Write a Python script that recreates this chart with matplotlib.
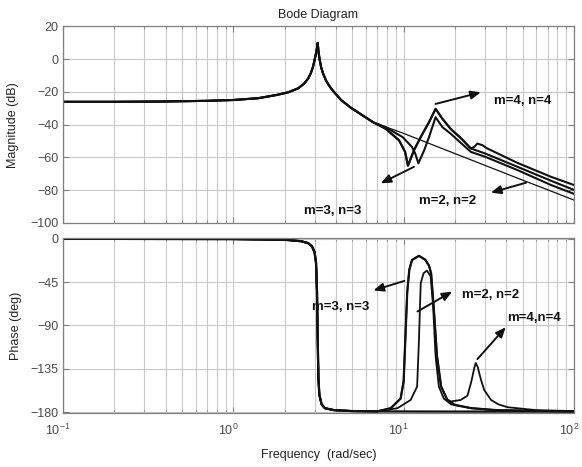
import matplotlib
matplotlib.use("Agg")
import matplotlib.pyplot as plt
import matplotlib.transforms as mtransforms
from matplotlib.ticker import LogLocator, NullFormatter, FixedLocator

plt.rcParams['font.family'] = ['Liberation Sans', 'DejaVu Sans']

# ---------------- magnitude (dB) ----------------
# part shared by every curve (up to where they split, ~6.6 rad/s)
mag_f_common = [0.1, 0.2, 0.4, 0.7, 1.0, 1.4, 1.8, 2.1, 2.4, 2.6, 2.75, 2.85,
                2.93, 2.99, 3.05, 3.1, 3.13, 3.16, 3.21, 3.28, 3.36, 3.5, 3.7,
                3.9, 4.3, 4.9, 5.8, 6.6]
mag_common = [-26, -26, -25.8, -25.4, -24.9, -23.8, -21.8, -20.2, -17.8, -15,
              -11.8, -8.6, -5, -1.2, 3, 7, 10, 5, 0, -5, -8.5, -13, -17, -20,
              -25, -29.6, -34.6, -38.4]

# thin reference curve (no extra modes)
mag_f_base = [7.8, 10, 18.9, 30, 46.6, 70, 100]
mag_base = [-41.2, -45.3, -56.6, -64.8, -72.6, -79.7, -86]

# m=3, n=3
mag_f_m3 = [7.83, 9.4, 10.2, 10.6, 11.5, 12.6, 14.1, 15.4, 16.9, 18.9, 21.6,
            24.8, 30, 46.6, 73.3, 100]
mag_m3 = [-42.4, -49.5, -56.6, -65, -55.6, -47.5, -38.4, -30.3, -36.4, -42.6,
          -48, -54.5, -57.5, -65.7, -74.2, -79.8]

# m=2, n=2
mag_f_m2 = [7.83, 9.85, 11.2, 11.7, 12.2, 13.2, 14.1, 15.4, 16.9, 18.9, 24.8,
            30, 46.6, 73.3, 100]
mag_m2 = [-41.5, -47.5, -53.6, -57.6, -63.6, -55.6, -47.5, -35.4, -41.5,
          -45.5, -56.6, -59.5, -67.7, -76.8, -82.2]

# m=4, n=4 (follows m=3 up to ~24 rad/s, then the small bump)
mag_f_m4 = [24.8, 26.0, 27.1, 29.0, 31.0, 46.6, 73.3, 100]
mag_m4 = [-54.5, -53.5, -51.5, -52.5, -54.5, -63.3, -71.8, -76.8]

# ---------------- phase (deg) ----------------
ph_f_common = [0.1, 1.0, 2.0, 2.5, 2.75, 2.9, 3.0, 3.06, 3.1, 3.13, 3.16,
               3.2, 3.3, 3.45, 3.9, 5.0, 7.0]
ph_common = [0, -0.3, -1, -2.5, -4.5, -8, -14, -25, -55, -105, -145, -162,
             -172, -176, -178, -179, -179.3]

ph_f_base = [20, 100]
ph_base = [-179.5, -179.5]

ph_f_m3 = [8.4, 9.6, 10.0, 10.2, 10.5, 10.8, 11.2, 12.3, 13.4, 14.1, 14.5,
           15.0, 15.7, 16.6, 18.0, 20, 25, 35, 100]
ph_m3 = [-176, -166, -148, -110, -55, -32, -22, -17.7, -21.8, -28, -36, -70,
         -122, -153.5, -167, -172.6, -176, -178, -179.5]

ph_f_m2 = [9.2, 11.0, 12.0, 12.3, 12.6, 13.1, 13.7, 14.4, 14.9, 15.4, 16.1,
           17.2, 19, 25, 35, 100]
ph_m2 = [-176, -167.4, -153.5, -105, -46, -35.7, -33, -39, -70.4, -122,
         -153.5, -166, -172, -176, -178, -179.5]

ph_f_m4 = [18.9, 21.6, 23.7, 25.0, 26.0, 26.5, 27.2, 28.4, 29.7, 32.6, 36,
           40.8, 60, 100]
ph_m4 = [-169, -167.5, -163, -148, -134, -129, -133, -146, -157, -167.4, -172,
         -175, -178, -179]


def head(fx, vals, fmax):
    return ([f for f in fx if f <= fmax], [v for f, v in zip(fx, vals) if f <= fmax])


fig = plt.figure(figsize=(5.82, 4.67), dpi=100)
ax1 = fig.add_axes([0.1082, 0.5225, 0.878, 0.4208])
ax2 = fig.add_axes([0.1082, 0.1156, 0.878, 0.3747])

lc = '#111111'
# magnitude
ax1.plot(mag_f_common + mag_f_base, mag_common + mag_base, color=lc, lw=0.9)
ax1.plot(mag_f_common + mag_f_m2, mag_common + mag_m2, color=lc, lw=1.5)
ax1.plot(mag_f_common + mag_f_m3, mag_common + mag_m3, color=lc, lw=1.5)
f3, m3 = head(mag_f_m3, mag_m3, 24.0)
ax1.plot(mag_f_common + f3 + mag_f_m4, mag_common + m3 + mag_m4, color=lc, lw=1.5)

# phase
ax2.plot(ph_f_common + ph_f_base, ph_common + ph_base, color=lc, lw=1.6)
ax2.plot(ph_f_common + ph_f_m3, ph_common + ph_m3, color=lc, lw=1.6)
ax2.plot(ph_f_common + ph_f_m2, ph_common + ph_m2, color=lc, lw=1.3)
p3f, p3 = head(ph_f_m3, ph_m3, 18.0)
ax2.plot(ph_f_common + p3f + ph_f_m4, ph_common + p3 + ph_m4, color=lc, lw=1.3)

for ax in (ax1, ax2):
    ax.set_xscale('log')
    ax.set_xlim(0.1, 100)
    ax.xaxis.set_major_locator(LogLocator(base=10, numticks=10))
    ax.xaxis.set_minor_locator(LogLocator(base=10, subs=range(2, 10), numticks=20))
    ax.xaxis.set_minor_formatter(NullFormatter())
    ax.grid(True, which='both', axis='x', color='#c8c8c8', lw=0.8)
    ax.grid(True, which='major', axis='y', color='#c8c8c8', lw=0.8)
    ax.tick_params(which='both', direction='in', top=True, right=True,
                   colors='#808080', labelcolor='#4a4a4a', labelsize=9, pad=3)
    ax.tick_params(which='major', length=4)
    ax.tick_params(which='minor', length=2.5)
    for s in ax.spines.values():
        s.set_color('#808080')
        s.set_linewidth(0.9)
    ax.set_axisbelow(True)

ax1.set_ylim(-100, 20)
ax1.yaxis.set_major_locator(FixedLocator([20, 0, -20, -40, -60, -80, -100]))
ax1.tick_params(axis='x', labelbottom=False)
ax1.set_ylabel('Magnitude (dB)', fontsize=9, color='#222222', labelpad=8)
ax1.set_title('Bode Diagram', fontsize=9, color='#222222', pad=6)

ax2.set_ylim(-181, 0.8)
ax2.yaxis.set_major_locator(FixedLocator([0, -45, -90, -135, -180]))
ax2.set_ylabel('Phase (deg)', fontsize=9, color='#222222', labelpad=6)
ax2.set_xlabel('Frequency  (rad/sec)', fontsize=9, color='#222222', labelpad=8)
ax2.tick_params(axis='x', pad=7)

# MATLAB puts the "10" of each decade label just left of its tick
shift = mtransforms.ScaledTranslation(-5 / 100, 0, fig.dpi_scale_trans)
for lab in ax2.get_xticklabels():
    lab.set_transform(lab.get_transform() + shift)

arrow = dict(arrowstyle='-|>,head_length=0.6,head_width=0.25', color=lc,
             lw=1.4, shrinkA=0, shrinkB=0)
tkw = dict(fontsize=9.5, fontweight='bold', color=lc, va='center', ha='left')

# magnitude annotations
ax1.annotate('', xy=(28.4, -20.2), xytext=(15.4, -27.3), arrowprops=arrow)
ax1.annotate('', xy=(7.33, -75.8), xytext=(11.5, -65.7), arrowprops=arrow)
ax1.annotate('', xy=(32.5, -81.5), xytext=(52.3, -75.4), arrowprops=arrow)
ax1.text(33.8, -25.3, 'm=4, n=4', **tkw)
ax1.text(2.6, -92.4, 'm=3, n=3', **tkw)
ax1.text(12.3, -86.5, 'm=2, n=2', **tkw)

# phase annotations
ax2.annotate('', xy=(6.64, -53.7), xytext=(10.1, -43.7), arrowprops=arrow)
ax2.annotate('', xy=(19.3, -54.8), xytext=(12.05, -75.5), arrowprops=arrow)
ax2.annotate('', xy=(39.8, -91.8), xytext=(27.1, -125), arrowprops=arrow)
ax2.text(2.9, -71, 'm=3, n=3', **tkw)
ax2.text(22.1, -58.2, 'm=2, n=2', **tkw)
ax2.text(40.7, -82.4, 'm=4,n=4', **tkw)

fig.savefig('out.png', dpi=100)
